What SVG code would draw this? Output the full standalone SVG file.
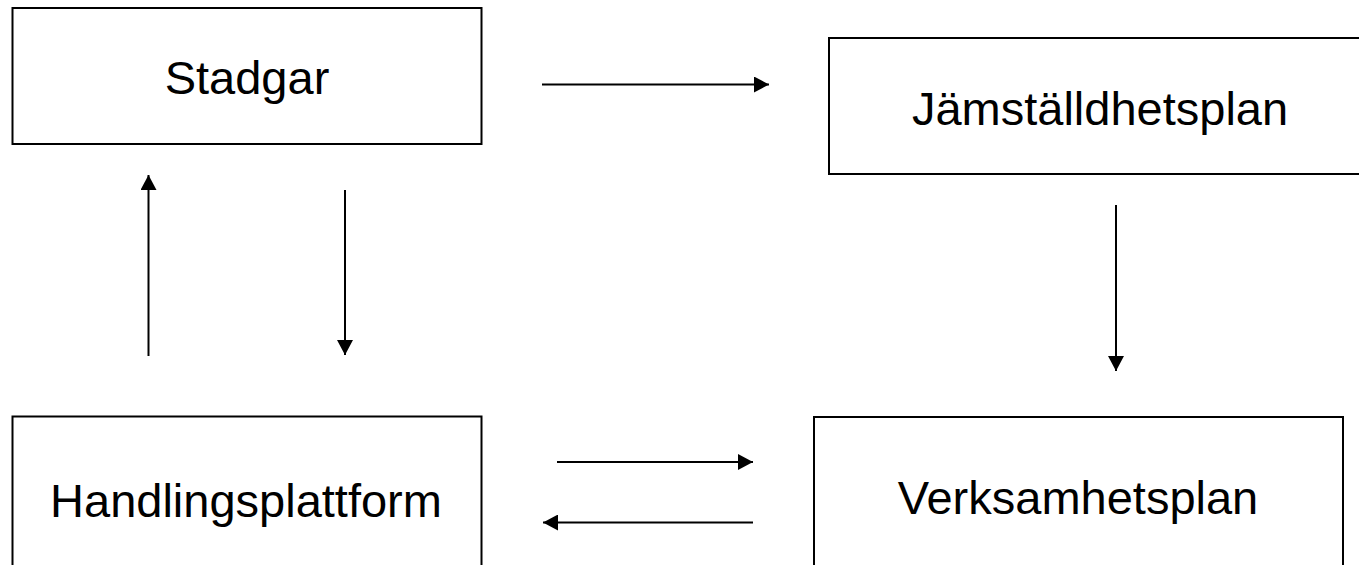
<svg xmlns="http://www.w3.org/2000/svg" width="1359" height="565" viewBox="0 0 1359 565">
<style>
.box{fill:#fff;stroke:#000;stroke-width:2}
.lbl{font-family:"Liberation Sans",Arial,sans-serif;font-size:47px;fill:#000;text-anchor:middle}
.con{stroke:#000;stroke-width:2;fill:none;marker-end:url(#ah)}
</style>
<defs>
<marker id="ah" markerUnits="userSpaceOnUse" markerWidth="16" markerHeight="16" refX="15" refY="8" orient="auto">
<path d="M0,0 L15,8 L0,16 Z" fill="#000"/>
</marker>
</defs>
<rect width="1359" height="565" fill="#fff"/>
<g id="stadgar">
<rect class="box" x="12.5" y="8" width="469" height="136"/>
<text class="lbl" x="247" y="94">Stadgar</text>
</g>
<g id="jamstalldhetsplan">
<rect class="box" x="829" y="38" width="545" height="136"/>
<text class="lbl" x="1100" y="125">Jämställdhetsplan</text>
</g>
<g id="handlingsplattform">
<rect class="box" x="12.5" y="416.5" width="469" height="160"/>
<text class="lbl" x="246" y="517">Handlingsplattform</text>
</g>
<g id="verksamhetsplan">
<rect class="box" x="814" y="417" width="529" height="160"/>
<text class="lbl" x="1078" y="514">Verksamhetsplan</text>
</g>
<g id="connectors">
<line class="con" x1="542" y1="84.5" x2="769" y2="84.5"/>
<line class="con" x1="148.5" y1="356" x2="148.5" y2="175"/>
<line class="con" x1="345" y1="190" x2="345" y2="355"/>
<line class="con" x1="1116" y1="205" x2="1116" y2="371"/>
<line class="con" x1="557" y1="462" x2="753" y2="462"/>
<line class="con" x1="753" y1="522.5" x2="543" y2="522.5"/>
</g>
</svg>
